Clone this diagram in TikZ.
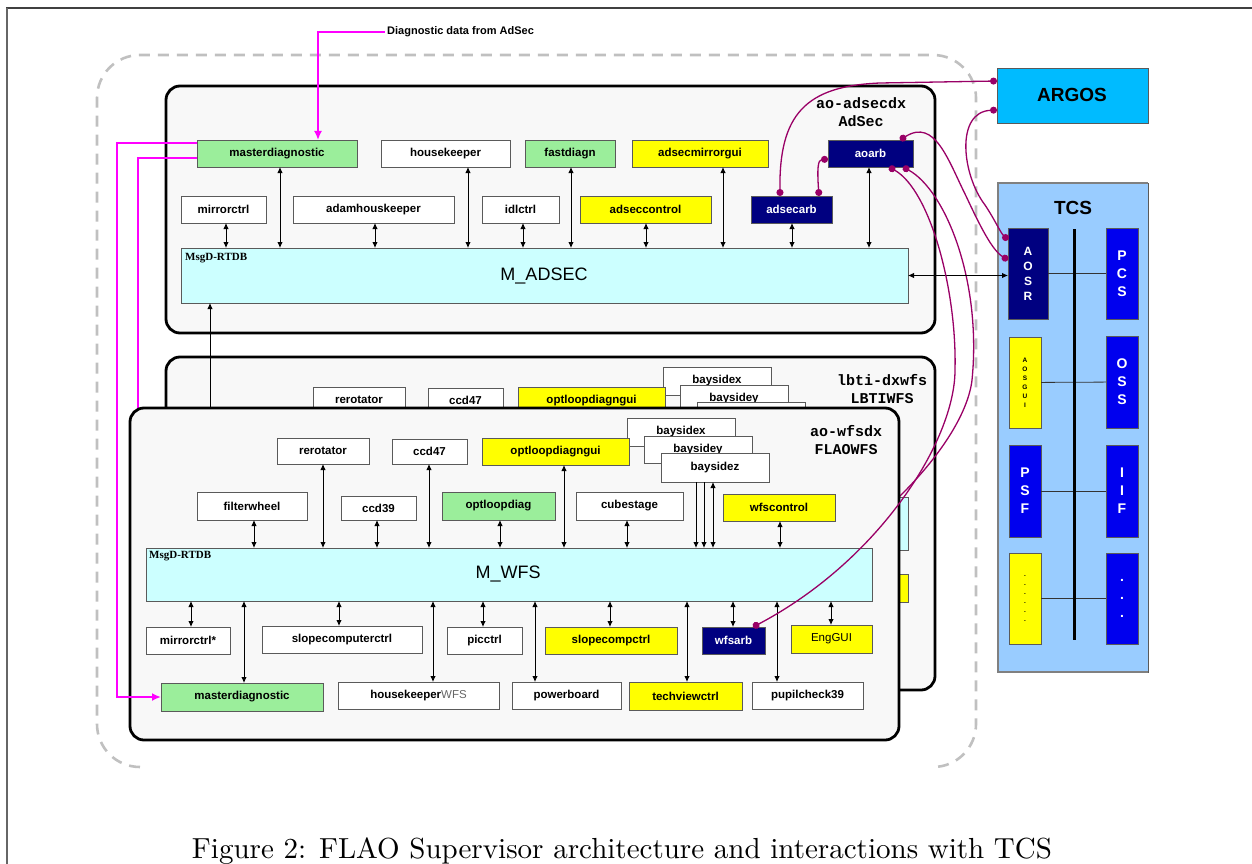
\documentclass[tikz,border=0pt]{standalone}
\usepackage{fontspec}
\usepackage{graphicx}
\usetikzlibrary{arrows.meta}
\newfontfamily\arialf{Liberation Sans}
\newfontfamily\courf{Liberation Mono}
\newfontfamily\timesf{Liberation Serif}
\definecolor{mgreen}{RGB}{155,238,155}
\definecolor{myellow}{RGB}{255,255,0}
\definecolor{mnavy}{RGB}{0,0,128}
\definecolor{mcyan}{RGB}{204,255,255}
\definecolor{boxbg}{RGB}{248,248,248}
\definecolor{argosc}{RGB}{0,187,255}
\definecolor{tcsc}{RGB}{153,204,255}
\definecolor{mblue}{RGB}{0,0,238}
\definecolor{purp}{RGB}{153,0,102}
\definecolor{magen}{RGB}{255,0,255}
\definecolor{dashc}{RGB}{192,192,192}
\definecolor{bordc}{RGB}{90,90,90}
\newcommand\mkbox[7]{\node[#6, minimum width={(#4)-(#2)}, minimum height={(#5)-(#3)}] (#1) at ({((#2)+(#4))/2},{((#3)+(#5))/2}) {#7};}
\newcommand\va[4]{\draw[#4] (#1 -| #3,0) -- (#2 -| #3,0);}
\tikzset{
  bx/.style={draw=bordc, line width=0.8pt, fill=white, inner sep=0pt, outer sep=0pt, font=\arialf\bfseries\fontsize{11.5}{13}\selectfont},
  grn/.style={bx, fill=mgreen},
  yel/.style={bx, fill=myellow},
  nav/.style={bx, fill=mnavy, text=white},
  cyb/.style={bx, fill=mcyan},
  cont/.style={draw=black, line width=2.8pt, fill=boxbg, rounded corners=14pt, inner sep=0pt, outer sep=0pt},
  hostlbl/.style={font=\courf\bfseries\fontsize{15}{18}\selectfont, align=center, inner sep=0pt},
  rtdb/.style={font=\timesf\bfseries\fontsize{11}{12}\selectfont, inner sep=0pt},
  mlbl/.style={font=\arialf\fontsize{18}{20}\selectfont, inner sep=0pt},
  dbl/.style={{Latex[length=6pt,width=5.5pt]}-{Latex[length=6pt,width=5.5pt]}, line width=0.9pt, black},
  sgl/.style={-{Latex[length=6pt,width=5.5pt]}, line width=0.9pt, black},
  mag/.style={draw=magen, line width=2.4pt},
  magarr/.style={mag, -{Latex[length=9pt,width=8pt]}},
  pcurve/.style={draw=purp, line width=1.3pt, {Circle[length=7pt]}-{Circle[length=7pt]}},
  tcsb/.style={draw=bordc, line width=0.8pt, inner sep=0pt, outer sep=0pt, align=center, font=\arialf\bfseries},
  tbig/.style={tcsb, fill=mblue, text=white, font=\arialf\bfseries\fontsize{14}{18}\selectfont},
  taosr/.style={tcsb, fill=mnavy, text=white, font=\arialf\bfseries\fontsize{12}{15}\selectfont},
  ttiny/.style={tcsb, fill=myellow, font=\arialf\bfseries\fontsize{6.5}{9}\selectfont},
  bigl/.style={font=\arialf\bfseries\fontsize{19}{22}\selectfont, inner sep=0pt}
}
\begin{document}
\begin{tikzpicture}[x=1pt,y=-1pt]
\useasboundingbox (0,0) rectangle (1252,864);
% page frame
\draw[black!75, line width=1.6pt] (6,8) -- (1252,8);
\draw[black!60, line width=1.6pt] (7,8) -- (7,864);
% dashed outline
\draw[dashc, line width=2.6pt, dash pattern=on 11pt off 8pt, rounded corners=43pt]
  (140,767) -- (97,767) -- (97,55) -- (976,55) -- (976,767) -- (933,767);

% ---------------- AdSec ----------------
\mkbox{adsecbox}{166}{86}{935}{333}{cont}{}
\node[hostlbl] (adseclbl) at (861,112) {ao-adsecdx\\AdSec};
\mkbox{mdiag}{197}{140}{357}{167}{grn}{masterdiagnostic}
\mkbox{hk}{381}{140}{510}{167}{bx}{housekeeper}
\mkbox{fastdiagn}{525}{140}{615}{167}{grn}{fastdiagn}
\mkbox{mirrorgui}{632}{140}{768}{167}{yel}{adsecmirrorgui}
\mkbox{aoarb}{828}{140}{913}{167}{nav}{aoarb}
\mkbox{mirrorctrl}{181}{196}{266}{223}{bx}{mirrorctrl}
\mkbox{adamhk}{293}{196}{454}{223}{bx}{adamhouskeeper}
\mkbox{idlctrl}{482}{196}{559}{223}{bx}{idlctrl}
\mkbox{adseccontrol}{580}{196}{711}{223}{yel}{adseccontrol}
\mkbox{adsecarb}{751}{196}{832}{223}{nav}{adsecarb}
\mkbox{madsec}{181}{248}{908}{303}{cyb}{}
\node[rtdb, anchor=base west] (madsecrtdb) at (185,260) {MsgD-RTDB};
\node[mlbl] (madsectxt) at (544,276) {M\_ADSEC};
\va{madsec.north}{mdiag.south}{280}{dbl}
\va{madsec.north}{mirrorctrl.south}{226}{dbl}
\va{madsec.north}{adamhk.south}{375}{dbl}
\va{madsec.north}{hk.south}{468}{dbl}
\va{madsec.north}{idlctrl.south}{523}{dbl}
\va{madsec.north}{fastdiagn.south}{571}{dbl}
\va{madsec.north}{adseccontrol.south}{646}{dbl}
\va{madsec.north}{mirrorgui.south}{723}{dbl}
\va{madsec.north}{adsecarb.south}{792}{dbl}
\va{madsec.north}{aoarb.south}{869}{dbl}

% ---------------- LBTIWFS (behind) ----------------
\mkbox{lbtibox}{166}{357}{935}{690}{cont}{}
\node[hostlbl] (lbtilbl) at (882,389) {lbti-dxwfs\\LBTIWFS};
\mkbox{lrerot}{313}{387}{405}{413}{bx}{rerotator}
\mkbox{lccd47}{428}{388}{503}{413}{bx}{ccd47}
\mkbox{lbx}{663}{367}{771}{395}{bx}{baysidex}
\mkbox{lolgui}{518}{387}{665}{414}{yel}{optloopdiagngui}
\mkbox{lby}{680}{385}{788}{412}{bx}{baysidey}
\mkbox{lbz}{697}{402}{805}{431}{bx}{}
\mkbox{lmwfs}{182}{497}{908}{550}{cyb}{}
\mkbox{leng}{827}{574}{908}{602}{yel}{}
\coordinate (lwfsarb) at (789,576);
\draw[mag] (mdiag.west |- 0,158) -| (138,430);
\draw[pcurve] (aoarb.south -| 903,0) .. controls (945,190) and (982,280) .. (972,380)
   .. controls (965,440) and (880,530) .. (lwfsarb);

% ---------------- FLAOWFS ----------------
\mkbox{wfsbox}{130}{408}{899}{740}{cont}{}
\draw[sgl] (wfsbox.north -| 210,0) -- (madsec.south -| 210,0);
\node[hostlbl] (wfslbl) at (846,440) {ao-wfsdx\\FLAOWFS};
\mkbox{wrerot}{277}{438}{369}{464}{bx}{rerotator}
\mkbox{wccd47}{392}{439}{467}{464}{bx}{ccd47}
\mkbox{wbx}{627}{418}{735}{446}{bx}{baysidex}
\mkbox{wolgui}{482}{438}{629}{465}{yel}{optloopdiagngui}
\mkbox{wby}{644}{436}{752}{463}{bx}{baysidey}
\mkbox{wbz}{661}{453}{769}{482}{bx}{baysidez}
\mkbox{wfilter}{197}{492}{307}{520}{bx}{filterwheel}
\mkbox{wccd39}{341}{496}{416}{520}{bx}{ccd39}
\mkbox{woldiag}{442}{492}{555}{520}{grn}{optloopdiag}
\mkbox{wcube}{576}{492}{683}{520}{bx}{cubestage}
\mkbox{wfsctl}{723}{494}{835}{521}{yel}{wfscontrol}
\mkbox{mwfs}{146}{548}{872}{601}{cyb}{}
\node[rtdb, anchor=base west] (mwfsrtdb) at (149,558) {MsgD-RTDB};
\node[mlbl] (mwfstxt) at (508,574) {M\_WFS};
\mkbox{wmirror}{146}{627}{230}{654}{bx}{mirrorctrl*}
\mkbox{wslope}{262}{626}{422}{653}{bx}{slopecomputerctrl}
\mkbox{wpic}{447}{627}{522}{654}{bx}{picctrl}
\mkbox{wscc}{545}{627}{677}{654}{yel}{slopecompctrl}
\mkbox{wfsarb}{702}{627}{765}{654}{nav}{wfsarb}
\mkbox{weng}{791}{625}{872}{653}{yel}{\mdseries EngGUI}
\mkbox{wmdiag}{161}{683}{323}{711}{grn}{masterdiagnostic}
\mkbox{whk}{338}{682}{499}{709}{bx}{housekeeper{\mdseries\color{black!60}WFS}}
\mkbox{wpower}{512}{682}{621}{709}{bx}{powerboard}
\mkbox{wtech}{629}{682}{742}{710}{yel}{techviewctrl}
\mkbox{wpupil}{752}{682}{863}{709}{bx}{pupilcheck39}
\va{mwfs.north}{wrerot.south}{323}{dbl}
\va{mwfs.north}{wccd47.south}{429}{dbl}
\va{mwfs.north}{wolgui.south}{564}{dbl}
\va{mwfs.north}{wfilter.south}{254}{dbl}
\va{mwfs.north}{wccd39.south}{377}{dbl}
\va{mwfs.north}{woldiag.south}{500}{dbl}
\va{mwfs.north}{wcube.south}{627}{dbl}
\va{mwfs.north}{wfsctl.south}{780}{dbl}
\draw[sgl] (wbz.south -| 696,0) -- (mwfs.north -| 696,0);
\draw[sgl] (wbz.south -| 704,0) -- (mwfs.north -| 704,0);
\draw[dbl] (wbz.south -| 713,0) -- (mwfs.north -| 713,0);
\va{mwfs.south}{wmirror.north}{191}{dbl}
\va{mwfs.south}{wmdiag.north}{244}{dbl}
\va{mwfs.south}{wslope.north}{339}{dbl}
\va{mwfs.south}{whk.north}{433}{dbl}
\va{mwfs.south}{wpic.north}{483}{dbl}
\va{mwfs.south}{wpower.north}{535}{dbl}
\va{mwfs.south}{wscc.north}{610}{dbl}
\va{mwfs.south}{wtech.north}{687}{dbl}
\va{mwfs.south}{wfsarb.north}{733}{dbl}
\va{mwfs.south}{wpupil.north}{777}{dbl}
\va{mwfs.south}{weng.north}{831}{dbl}

% ---------------- magenta diagnostics ----------------
\node[font=\arialf\bfseries\fontsize{11}{13}\selectfont, anchor=west, inner sep=2pt] (diaglbl) at (385,32) {Diagnostic data from AdSec};
\draw[magarr] (diaglbl.west) -| (mdiag.north -| 318,0);
\draw[magarr] (mdiag.west |- 0,143) -| (117,420) |- (wmdiag.west);

% ---------------- ARGOS / TCS ----------------
\mkbox{argos}{997}{68}{1148}{123}{tcsb}{}
\fill[argosc] (argos.north west) rectangle (argos.south east);
\draw[bordc, line width=0.8pt] (argos.north east) -- (argos.north west) -- (argos.south west) -- (argos.south east);
\node[bigl] (argostxt) at (1072,95) {ARGOS};
\mkbox{tcs}{998}{183}{1148}{672}{tcsb}{}
\fill[tcsc] (tcs.north west) rectangle (tcs.south east);
\draw[gray, line width=1.2pt] (tcs.north east) -- (tcs.north west) -- (tcs.south west) -- (tcs.south east);
\node[bigl] (tcstxt) at (1073,208) {TCS};
\coordinate (bartop) at (1074,229);
\coordinate (barbot) at (1074,640);
\mkbox{aosr}{1008}{228}{1048}{319}{taosr}{A\\O\\S\\R}
\mkbox{pcs}{1106}{228}{1138}{319}{tbig}{P\\C\\S}
\mkbox{aosgui}{1009}{337}{1041}{428}{ttiny}{A\\O\\S\\G\\U\\I}
\mkbox{oss}{1106}{336}{1138}{428}{tbig}{O\\S\\S}
\mkbox{psf}{1009}{445}{1041}{537}{tbig}{P\\S\\F}
\mkbox{iif}{1106}{445}{1138}{537}{tbig}{I\\I\\F}
\mkbox{ydots}{1009}{553}{1041}{644}{ttiny}{.\\.\\.\\.\\.\\.}
\mkbox{bdots}{1106}{553}{1138}{644}{tbig}{.\\.\\.}
\draw[black!80, line width=0.8pt] (aosr) -- (pcs);
\draw[black!80, line width=0.8pt] (aosgui) -- (oss);
\draw[black!80, line width=0.8pt] (psf) -- (iif);
\draw[black!80, line width=0.8pt] (ydots) -- (bdots);
\draw[black, line width=3pt] (bartop) -- (barbot);
\draw[dbl] (madsec.east) -- (madsec.east -| aosr.west);

% ---------------- purple links ----------------
\draw[pcurve] (aoarb.south -| 889,0) .. controls (930,190) and (957,290) .. (955,370)
   .. controls (955,440) and (880,560) .. (wfsarb.north -| 753,0);
\draw[pcurve] (adsecarb.north -| 780,0) .. controls (779,115) and (805,86) .. (880,83) -- (argos.west |- 0,81);
\draw[pcurve] (adsecarb.north -| 819,0) .. controls (817,168) and (818,160) .. (aoarb.west |- 0,159);
\draw[pcurve] (aoarb.north -| 900,0) .. controls (935,118) and (948,160) .. (966,196)
   .. controls (980,226) and (992,250) .. (aosr.west |- 0,260);
\draw[pcurve] (argos.west |- 0,110) .. controls (955,112) and (962,175) .. (985,205)
   .. controls (995,220) and (1000,232) .. (aosr.west |- 0,240);

% ---------------- caption ----------------
\node[anchor=base, inner sep=0pt] (caption) at (622,858) {\resizebox{860pt}{!}{\fontsize{10}{12}\selectfont Figure 2: FLAO Supervisor architecture and interactions with TCS}};
\end{tikzpicture}
\end{document}
